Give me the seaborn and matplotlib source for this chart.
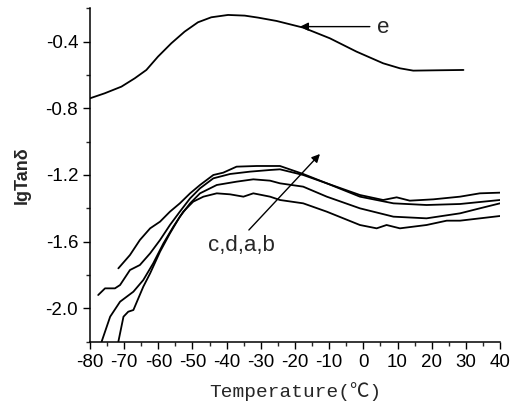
import seaborn as sns
import matplotlib.pyplot as plt
import matplotlib.ticker as mticker
import pandas as pd

# curve e (upper)
e_temp = [-80, -75.7, -70.8, -66.9, -63.5, -60.1, -56.2, -52.3, -48.4, -44.5, -39.6, -34.7,
          -30.8, -25.4, -17.6, -9.8, -2.0, 5.8, 10.7, 14.6, 21.5, 29.3]
e_val = [-0.74, -0.71, -0.67, -0.62, -0.57, -0.49, -0.41, -0.34, -0.284, -0.254, -0.24, -0.244,
         -0.256, -0.276, -0.316, -0.38, -0.46, -0.53, -0.56, -0.574, -0.572, -0.57]

# lower curves, bottom to top: c, d, a, b
c_temp = [-76.6, -74.1, -71.2, -67.3, -64.4, -61.5, -58.5, -55.6, -52.7, -49.8, -46.8, -42.9,
          -39.0, -35.1, -32.2, -27.3, -24.4, -17.6, -10.7, -1.0, 3.9, 6.8, 10.7, 18.5, 24.4, 28.3, 40]
c_val = [-2.2, -2.05, -1.96, -1.90, -1.83, -1.73, -1.61, -1.51, -1.42, -1.36, -1.33, -1.31,
         -1.316, -1.33, -1.31, -1.33, -1.35, -1.37, -1.42, -1.50, -1.52, -1.50, -1.52, -1.50,
         -1.474, -1.474, -1.446]

d_temp = [-71.7, -70.2, -68.8, -67.3, -64.4, -62.4, -59.5, -56.6, -53.7, -50.7, -47.8, -42.9,
          -37.1, -32.2, -27.3, -24.4, -17.6, -10.7, -1.0, 8.8, 18.5, 28.3, 34.1, 40]
d_val = [-2.2, -2.05, -2.02, -2.01, -1.87, -1.79, -1.66, -1.55, -1.45, -1.37, -1.31, -1.26,
         -1.24, -1.226, -1.234, -1.25, -1.27, -1.33, -1.40, -1.45, -1.46, -1.43, -1.40, -1.37]

a_temp = [-77.6, -75.6, -72.7, -71.2, -68.3, -65.4, -62.4, -59.5, -56.6, -53.7, -50.7, -47.8,
          -43.9, -39.0, -33.2, -27.3, -24.4, -17.6, -10.7, -1.0, 8.8, 18.5, 28.3, 40]
a_val = [-1.92, -1.88, -1.88, -1.86, -1.77, -1.74, -1.67, -1.59, -1.50, -1.42, -1.34, -1.28,
         -1.22, -1.194, -1.18, -1.17, -1.166, -1.20, -1.25, -1.33, -1.37, -1.38, -1.374, -1.35]

b_temp = [-71.7, -68.3, -65.4, -62.4, -59.5, -56.6, -53.7, -50.7, -47.8, -43.9, -41.0, -37.1,
          -31.2, -24.4, -17.6, -10.7, -1.0, 5.8, 9.75, 13.6, 20.5, 28.3, 34.1, 40]
b_val = [-1.76, -1.68, -1.59, -1.52, -1.48, -1.42, -1.37, -1.31, -1.26, -1.20, -1.186, -1.15,
         -1.146, -1.146, -1.194, -1.25, -1.32, -1.35, -1.334, -1.354, -1.346, -1.33, -1.31, -1.306]

series = {'e': (e_temp, e_val), 'c': (c_temp, c_val), 'd': (d_temp, d_val),
          'a': (a_temp, a_val), 'b': (b_temp, b_val)}

sns.set_style('ticks')
plt.rcParams['font.family'] = ['Liberation Sans', 'DejaVu Sans']
plt.rcParams['axes.unicode_minus'] = False

fig = plt.figure(figsize=(5.16, 4.08), dpi=100)
ax = fig.add_axes([0.1744, 0.1625, 0.7946, 0.8172])

for name, (t, v) in series.items():
    df = pd.DataFrame({'T': t, 'v': v})
    sns.lineplot(data=df, x='T', y='v', sort=False, estimator=None, color='black',
                 linewidth=1.3, ax=ax)

ax.set_xlim(-80, 40)
ax.set_ylim(-2.2, -0.2)
ax.xaxis.set_major_locator(mticker.MultipleLocator(10))
ax.xaxis.set_minor_locator(mticker.MultipleLocator(5))
ax.yaxis.set_major_locator(mticker.FixedLocator([-2.0, -1.6, -1.2, -0.8, -0.4]))
ax.yaxis.set_minor_locator(mticker.MultipleLocator(0.2))
ax.yaxis.set_major_formatter(mticker.FormatStrFormatter('%.1f'))
ax.tick_params(which='major', direction='out', length=5, width=1, labelsize=13.5, colors='black')
ax.tick_params(which='minor', direction='out', length=3, width=1)
sns.despine(ax=ax)
for s in ['left', 'bottom']:
    ax.spines[s].set_linewidth(1.1)
    ax.spines[s].set_color('black')

ax.set_ylabel('lgTan\u03b4', fontsize=13, fontweight='bold', labelpad=11)
ax.set_xlabel('Temperature(\u2103)', fontsize=14, labelpad=8,
              family=['Liberation Mono', 'Noto Sans CJK SC'])

ax.annotate('', xy=(-18.5, -0.31), xytext=(1.9, -0.31),
            arrowprops=dict(arrowstyle='-|>', color='black', lw=1, mutation_scale=12,
                            shrinkA=0, shrinkB=0))
ax.text(3.9, -0.316, 'e', fontsize=16, ha='left', va='center')

ax.annotate('', xy=(-12.7, -1.074), xytext=(-33.5, -1.53),
            arrowprops=dict(arrowstyle='-|>', color='black', lw=1, mutation_scale=12,
                            shrinkA=0, shrinkB=0))
ax.text(-45.5, -1.62, 'c,d,a,b', fontsize=16, ha='left', va='center')

fig.savefig('out.png', dpi=100)
